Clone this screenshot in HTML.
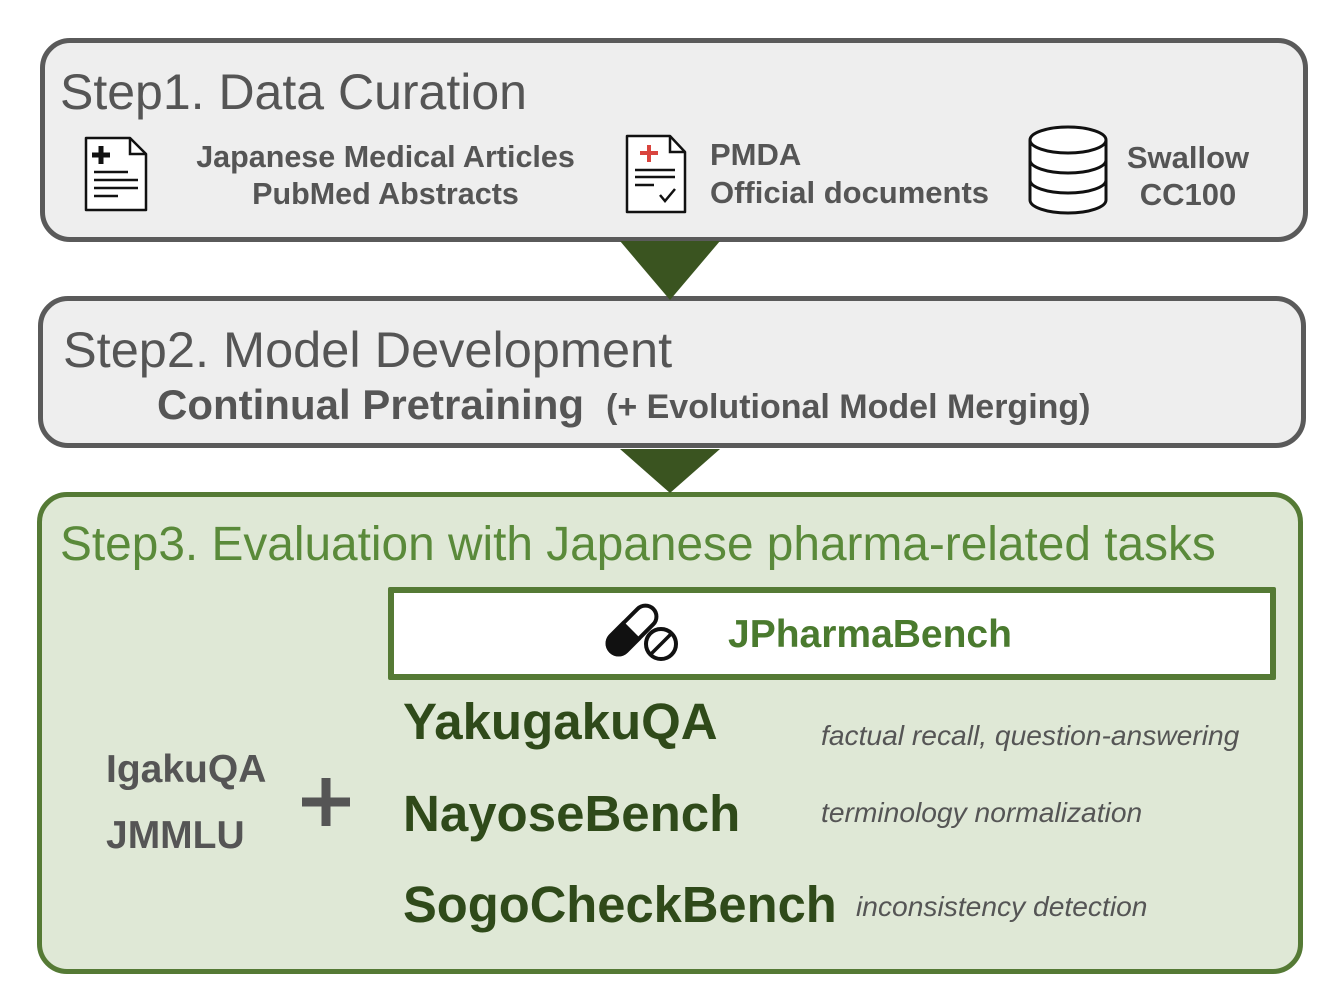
<!DOCTYPE html>
<html><head><style>
body{margin:0;width:1328px;height:1004px;background:#fff;position:relative;font-family:"Liberation Sans",sans-serif;overflow:hidden}
.a{position:absolute;white-space:nowrap}
.box{position:absolute;box-sizing:border-box;border-radius:30px}
.g{color:#555;font-weight:bold}
</style></head><body>
<div class="box" style="left:40px;top:38px;width:1268px;height:204px;border:5px solid #5a5a5a;background:#eeeeee"></div>
<div class="box" style="left:38px;top:296px;width:1268px;height:152px;border:5px solid #5a5a5a;background:#eeeeee"></div>
<div class="box" style="left:37px;top:492px;width:1266px;height:482px;border:5px solid #557a35;background:#dfe8d6"></div>
<div class="box" style="left:388px;top:587px;width:888px;height:93px;border:6px solid #557a35;background:#fff;border-radius:2px"></div>
<svg class="a" style="left:0;top:0" width="1328" height="1004">
<polygon points="620,241 720,241 670,300" fill="#3a5420"/>
<polygon points="620,449 720,449 670,493" fill="#3a5420"/>
<path d="M86,138 H130 L146,154 V210 H86 Z" fill="#fff" stroke="#111" stroke-width="2.5" stroke-linejoin="round"/>
<path d="M130,138 V154 H146" fill="none" stroke="#111" stroke-width="2.5"/>
<path d="M101,146 V164 M92,155 H110" stroke="#111" stroke-width="5"/>
<path d="M94,172 H128 M94,180 H138 M94,188 H138 M94,196 H118" stroke="#111" stroke-width="2.5"/>
<path d="M627,136 H670 L685,152 V212 H627 Z" fill="#fff" stroke="#111" stroke-width="2.5" stroke-linejoin="round"/>
<path d="M670,136 V152 H685" fill="none" stroke="#111" stroke-width="2.5"/>
<path d="M649,145 V162 M640,153 H658" stroke="#d9443e" stroke-width="4"/>
<path d="M635,170 H675 M635,177 H675 M635,185 H654" stroke="#111" stroke-width="2.5"/>
<path d="M660,195 L665,201 L675,189" fill="none" stroke="#111" stroke-width="2.5"/>
<g fill="#fff" stroke="#111" stroke-width="3">
<path d="M1030,140 V200 A38,13 0 0 0 1106,200 V140"/>
<ellipse cx="1068" cy="140" rx="38" ry="13"/>
<path d="M1030,160 A38,13 0 0 0 1106,160 M1030,180 A38,13 0 0 0 1106,180" fill="none"/>
</g>
<g transform="translate(632 630) rotate(45)">
<rect x="-11" y="-30" width="22" height="60" rx="11" fill="#fff" stroke="#111" stroke-width="4"/>
<path d="M-13,0 H13 V19 A13,13 0 0 1 -13,19 Z" fill="#111"/>
</g>
<circle cx="661" cy="644" r="15" fill="#fff" stroke="#111" stroke-width="4"/><path d="M651,654 L671,634" stroke="#111" stroke-width="3.5"/>
<path d="M326,778 V826 M302,802 H350" stroke="#555" stroke-width="9"/>
</svg>
<div class="a" style="left:60px;top:63px;font-size:50px;color:#555">Step1. Data Curation</div>
<div class="a g" style="left:183px;top:139px;font-size:30.5px;text-align:center;line-height:37px;width:405px">Japanese Medical Articles<br>PubMed Abstracts</div>
<div class="a g" style="left:710px;top:136px;font-size:31px;line-height:38px">PMDA<br>Official documents</div>
<div class="a g" style="left:1118px;top:139px;font-size:31px;line-height:37px;text-align:center;width:140px">Swallow<br>CC100</div>
<div class="a" style="left:63px;top:320px;font-size:50.5px;color:#555">Step2. Model Development</div>
<div class="a g" style="left:157px;top:381px;font-size:42px">Continual Pretraining</div>
<div class="a g" style="left:606px;top:388px;font-size:34px">(+ Evolutional Model Merging)</div>
<div class="a" style="left:60px;top:517px;font-size:47.8px;color:#5a8a3a">Step3. Evaluation with Japanese pharma-related tasks</div>
<div class="a" style="left:728px;top:613px;font-size:39px;font-weight:bold;color:#4a7a2e">JPharmaBench</div>
<div class="a" style="left:403px;top:692px;font-size:51px;font-weight:bold;color:#2f4a1a">YakugakuQA</div>
<div class="a" style="left:403px;top:784px;font-size:51px;font-weight:bold;color:#2f4a1a">NayoseBench</div>
<div class="a" style="left:403px;top:875px;font-size:50.7px;font-weight:bold;color:#2f4a1a">SogoCheckBench</div>
<div class="a" style="left:821px;top:719px;font-size:28.2px;font-style:italic;color:#555">factual recall, question-answering</div>
<div class="a" style="left:821px;top:796px;font-size:28.2px;font-style:italic;color:#555">terminology normalization</div>
<div class="a" style="left:856px;top:890px;font-size:28.2px;font-style:italic;color:#555">inconsistency detection</div>
<div class="a g" style="left:106px;top:748px;font-size:39px">IgakuQA</div>
<div class="a g" style="left:106px;top:814px;font-size:39px">JMMLU</div>
</body></html>
